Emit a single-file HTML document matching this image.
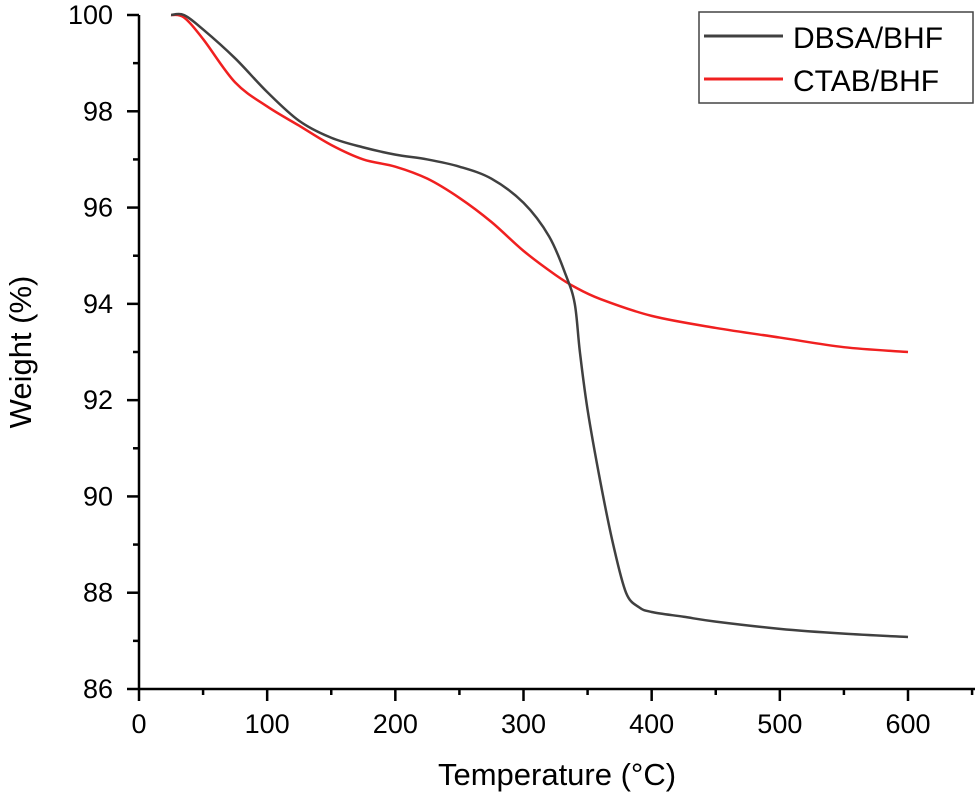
<!DOCTYPE html>
<html><head><meta charset="utf-8"><style>
body{margin:0;background:#fff}
svg text{font-family:"Liberation Sans",Arial,sans-serif;fill:#000}
</style></head><body>
<svg id="chart" width="980" height="797" viewBox="0 0 980 797"></svg>
<script>
const xTicks=[0,100,200,300,400,500,600];
const yTicks=[86,88,90,92,94,96,98,100];
const dbsaT=[25,35,50,75,100,125,150,175,200,225,250,275,300,320,333,340,344,350,360,370,380,390,400,425,450,500,550,600];
const dbsaW=[100,100,99.7,99.1,98.4,97.8,97.45,97.25,97.1,97.0,96.85,96.6,96.1,95.4,94.6,94.0,93.0,91.8,90.3,89.0,88.0,87.7,87.6,87.5,87.4,87.25,87.15,87.08];
const ctabT=[25,35,50,75,100,125,150,175,200,225,250,275,300,325,340,360,400,450,500,550,600];
const ctabW=[100,99.95,99.5,98.6,98.1,97.7,97.3,97.0,96.85,96.6,96.2,95.7,95.1,94.6,94.35,94.1,93.75,93.5,93.3,93.1,93.0];
const X0=139,X1=975,Y0=689,Y1=15;
const sx=v=>X0+(v-0)*(908-139)/600;
const sy=v=>Y0-(v-86)*(Y0-Y1)/14;
const svg=document.getElementById('chart');
const NS='http://www.w3.org/2000/svg';
function mk(t,a,p){const e=document.createElementNS(NS,t);for(const k in a)e.setAttribute(k,a[k]);(p||svg).appendChild(e);return e;}
let e;
e=mk('line',{x1:X0,y1:Y0,x2:X1,y2:Y0,stroke:'#000','stroke-width':2.5});


e=mk('line',{x1:X0,y1:Y0,x2:X0,y2:Y1,stroke:'#000','stroke-width':2.5});


xTicks.forEach((v,i)=>{
 e=mk('line',{x1:sx(v),y1:Y0,x2:sx(v),y2:Y0+12,stroke:'#000','stroke-width':2.5});
 
 
 e=mk('line',{x1:sx(v+50),y1:Y0,x2:sx(v+50),y2:Y0+6,stroke:'#000','stroke-width':2.5});
 
 
 e=mk('text',{x:sx(v),y:Y0+44,'text-anchor':'middle','font-size':27});
 e.textContent=v;
 
 
});
yTicks.forEach(v=>{
 e=mk('line',{x1:X0-12,y1:sy(v),x2:X0,y2:sy(v),stroke:'#000','stroke-width':2.5});
 
 
 if(v<100){e=mk('line',{x1:X0-6,y1:sy(v+1),x2:X0,y2:sy(v+1),stroke:'#000','stroke-width':2.5});
 
 }
 e=mk('text',{x:X0-26,y:sy(v)+9,'text-anchor':'end','font-size':27});
 e.textContent=v;
 
 
});
e=mk('text',{x:557,y:785,'text-anchor':'middle','font-size':31});
e.textContent='Temperature (°C)';


e=mk('text',{x:0,y:0,'text-anchor':'middle','font-size':31,transform:'translate(31,352) rotate(-90)'});
e.textContent='Weight (%)';


function smooth(T,W){const p=T.map((t,i)=>[sx(t),sy(W[i])]);let d='M'+p[0][0]+' '+p[0][1];
for(let i=0;i<p.length-1;i++){const a=p[i-1]||p[i],b=p[i],c=p[i+1],n=p[i+2]||c;
d+=` C${b[0]+(c[0]-a[0])/6} ${b[1]+(c[1]-a[1])/6} ${c[0]-(n[0]-b[0])/6} ${c[1]-(n[1]-b[1])/6} ${c[0]} ${c[1]}`;}return d;}
e=mk('path',{d:smooth(ctabT,ctabW),fill:'none',stroke:'#f02020','stroke-width':2.5});


e=mk('path',{d:smooth(dbsaT,dbsaW),fill:'none',stroke:'#404040','stroke-width':2.5});


const g=mk('g',{});


mk('rect',{x:699,y:12,width:274,height:91,fill:'#fff',stroke:'#444','stroke-width':1.5},g);
mk('line',{x1:704,y1:36,x2:783,y2:36,stroke:'#404040','stroke-width':3},g);
e=mk('text',{x:793,y:48,'font-size':30},g);e.textContent='DBSA/BHF';


mk('line',{x1:704,y1:79,x2:783,y2:79,stroke:'#f02020','stroke-width':3},g);
e=mk('text',{x:793,y:91,'font-size':30},g);e.textContent='CTAB/BHF';


</script>
</body></html>
